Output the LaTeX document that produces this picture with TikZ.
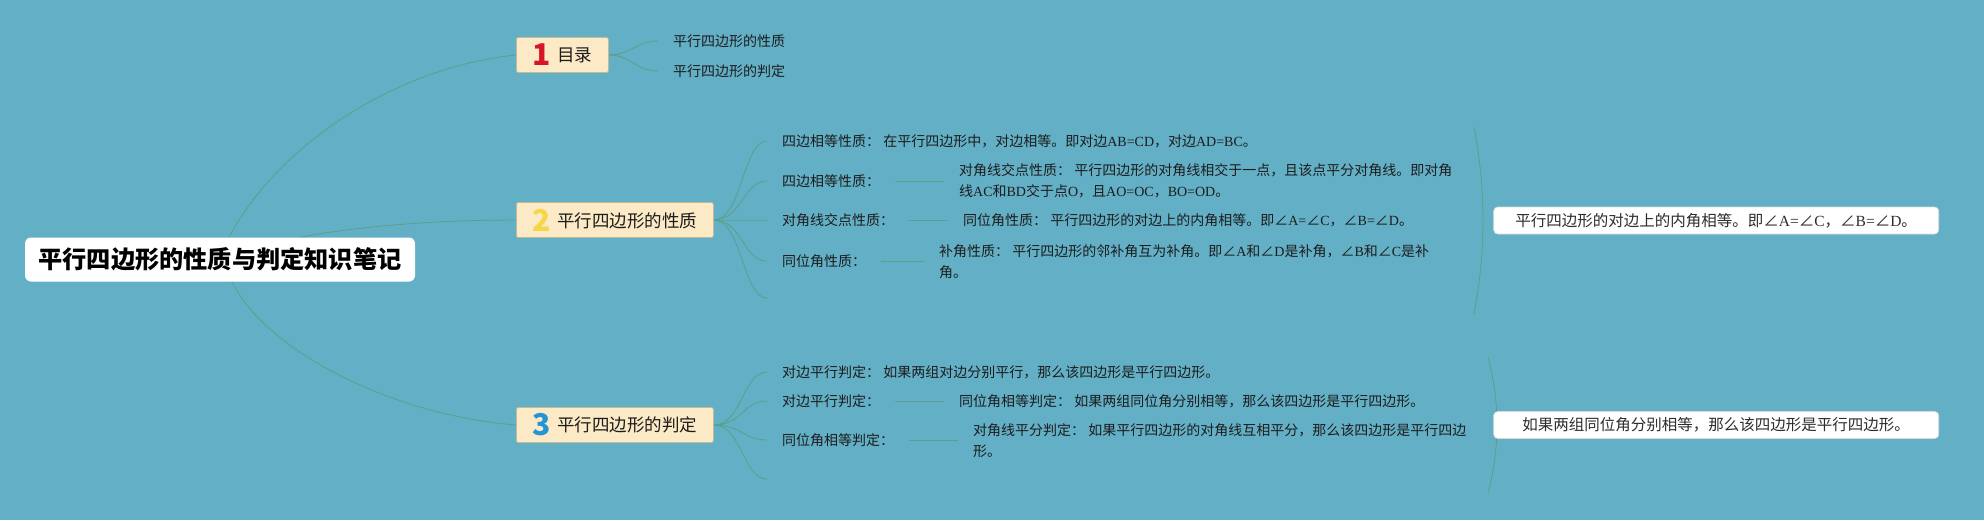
\documentclass[tikz,border=0pt]{standalone}
\usepackage{fontspec}
\setmainfont{Liberation Serif}
\newfontfamily\cjk{Noto Sans CJK SC}
\usetikzlibrary{calc,backgrounds}
\newcommand\latn[1]{{\rmfamily #1}}
\definecolor{bg}{RGB}{99,176,198}
\definecolor{linec}{RGB}{92,160,140}
\definecolor{cream}{RGB}{252,233,197}
\definecolor{creamline}{RGB}{196,186,148}
\definecolor{txt}{RGB}{28,28,28}
\definecolor{txtb}{RGB}{45,45,45}
\definecolor{numa}{RGB}{214,22,40}
\definecolor{numb}{RGB}{246,214,72}
\definecolor{numc}{RGB}{36,150,214}
\newcommand\numtag[2]{\makebox[18pt]{\raisebox{-4pt}{\color{#1}\fontsize{30}{30}\selectfont\bfseries #2}}\hspace{7pt}}
\begin{document}
\begin{tikzpicture}[x=1pt,y=-1pt,
  root/.style={fill=white, rounded corners=6pt, font=\cjk\bfseries\fontsize{24.2}{30}\selectfont, minimum width=390pt, minimum height=44pt, inner sep=0pt, text=black},
  topic/.style={anchor=west, fill=cream, draw=creamline, line width=0.8pt, rounded corners=2pt, minimum height=35pt, inner xsep=16pt, inner ysep=0pt, font=\cjk\fontsize{17.5}{20}\selectfont, text=txt},
  leaf/.style={anchor=west, inner xsep=15pt, inner ysep=2pt, font=\cjk\fontsize{14}{21}\selectfont, text=txt, align=left},
  sumbox/.style={anchor=east, fill=white, draw=black!15, line width=0.6pt, rounded corners=4pt, minimum height=27pt, minimum width=445pt, inner sep=0pt, font=\cjk\fontsize{15.5}{18}\selectfont, text=txtb},
  conn/.style={draw=linec, line width=0.9pt}]
\useasboundingbox (0,0) rectangle (1984,520);
% nodes
\node[root] (root) at (220,259.5) {平行四边形的性质与判定知识笔记};
\node[topic] (t1) at (516,55) {\numtag{numa}{1}目录};
\node[topic] (t2) at (516,220) {\numtag{numb}{2}平行四边形的性质};
\node[topic] (t3) at (516,425) {\numtag{numc}{3}平行四边形的判定};
\node[leaf] (l11) at (658,41) {平行四边形的性质};
\node[leaf] (l12) at (658,71) {平行四边形的判定};
\node[leaf] (c21) at (767,141) {四边相等性质： 在平行四边形中，对边相等。即对边\latn{AB=CD}，对边\latn{AD=BC}。};
\node[leaf] (c22) at (767,181) {四边相等性质：};
\node[leaf] (c23) at (767,220) {对角线交点性质：};
\node[leaf] (c24) at (767,261) {同位角性质：};
\coordinate (e2) at (767,298);
\node[leaf] (g22) at (944,181) {对角线交点性质： 平行四边形的对角线相交于一点，且该点平分对角线。即对角\\线\latn{AC}和\latn{BD}交于点\latn{O}，且\latn{AO=OC}，\latn{BO=OD}。};
\node[leaf] (g23) at (948,220) {同位角性质： 平行四边形的对边上的内角相等。即∠\latn{A=}∠\latn{C}，∠\latn{B=}∠\latn{D}。};
\node[leaf] (g24) at (924,262) {补角性质： 平行四边形的邻补角互为补角。即∠\latn{A}和∠\latn{D}是补角，∠\latn{B}和∠\latn{C}是补\\角。};
\node[leaf] (c31) at (767,372) {对边平行判定： 如果两组对边分别平行，那么该四边形是平行四边形。};
\node[leaf] (c32) at (767,401) {对边平行判定：};
\node[leaf] (c33) at (767,440) {同位角相等判定：};
\coordinate (e3) at (767,479);
\node[leaf] (g32) at (944,401) {同位角相等判定： 如果两组同位角分别相等，那么该四边形是平行四边形。};
\node[leaf] (g33) at (958,440.5) {对角线平分判定： 如果平行四边形的对角线互相平分，那么该四边形是平行四边\\形。};
\node[sumbox] (s1) at (1939,220.5) {平行四边形的对边上的内角相等。即∠\latn{A=}∠\latn{C}，∠\latn{B=}∠\latn{D}。};
\node[sumbox] (s2) at (1939,425) {如果两组同位角分别相等，那么该四边形是平行四边形。};
\coordinate (b1a) at (1474,127);
\coordinate (b1b) at (1474,314);
\coordinate (b2a) at (1488,357);
\coordinate (b2b) at (1488,493);
\begin{scope}[on background layer]
\fill[bg] (0,0) rectangle (1984,520);
% root branches
\draw[conn] ($(root.north)+(9,0)$) .. controls +(46,-87.5) and +(-126,13) .. (t1.west);
\draw[conn] ($(root.north)+(80,0)$) .. controls +(60,-11.5) and +(-76,0) .. (t2.west);
\draw[conn] ($(root.south)+(12,0)$) .. controls +(33,68) and +(-126,-10) .. (t3.west);
% topic 1
\foreach \n in {l11,l12}
  \draw[conn] (t1.east) .. controls +(22,0) and +(-22,0) .. (\n.west);
% topic 2
\foreach \n in {c21,c22,c23,c24}
  \draw[conn] (t2.east) .. controls +(28,0) and +(-24,0) .. (\n.west);
\draw[conn] (t2.east) .. controls +(28,0) and +(-24,0) .. (e2);
\draw[conn] (c22.east) -- (g22.west |- c22.east);
\draw[conn] (c23.east) -- (g23.west |- c23.east);
\draw[conn] (c24.east) -- (g24.west |- c24.east);
% topic 3
\foreach \n in {c31,c32,c33}
  \draw[conn] (t3.east) .. controls +(28,0) and +(-24,0) .. (\n.west);
\draw[conn] (t3.east) .. controls +(28,0) and +(-24,0) .. (e3);
\draw[conn] (c32.east) -- (g32.west |- c32.east);
\draw[conn] (c33.east) -- (g33.west |- c33.east);
% summary brackets
\draw[conn] (b1a) .. controls (1486,190) and (1486,251) .. (b1b);
\draw[conn] (b2a) .. controls (1500,403) and (1500,447) .. (b2b);
\end{scope}
\end{tikzpicture}
\end{document}
